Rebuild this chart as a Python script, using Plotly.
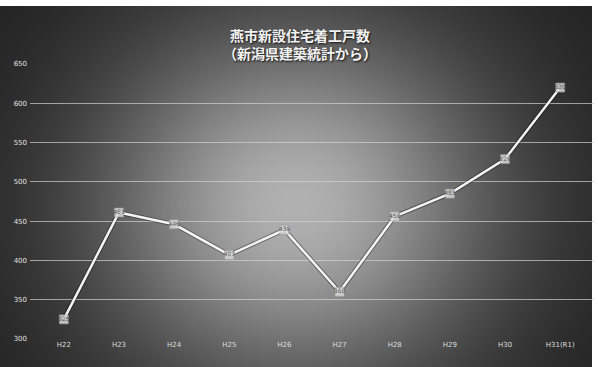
import base64, struct, zlib, math
import plotly.graph_objects as go

categories = ["H22", "H23", "H24", "H25", "H26", "H27", "H28", "H29", "H30", "H31(R1)"]
values = [325, 461, 446, 407, 439, 360, 456, 485, 529, 620]
y_ticks = [300, 350, 400, 450, 500, 550, 600, 650]
title_text = "燕市新設住宅着工戸数<br>（新潟県建築統計から）"

# radial-gradient background image (styling only)
W, H = 296, 181
rows = []
for j in range(H):
    row = bytearray([0])
    fy = j / (H - 1)
    for i in range(W):
        fx = i / (W - 1)
        dx = fx - 0.5
        dy = fy - 0.55
        v = 32 + 145 * math.exp(-(dx * dx / (2 * 0.24 ** 2) + dy * dy / (2 * 0.36 ** 2)))
        row.append(max(0, min(255, int(v))))
    rows.append(bytes(row))
raw = b"".join(rows)

def chunk(t, d):
    c = struct.pack(">I", len(d)) + t + d
    return c + struct.pack(">I", zlib.crc32(t + d) & 0xffffffff)

png = b"\x89PNG\r\n\x1a\n" + chunk(b"IHDR", struct.pack(">IIBBBBB", W, H, 8, 0, 0, 0, 0)) \
    + chunk(b"IDAT", zlib.compress(raw, 9)) + chunk(b"IEND", b"")
src = "data:image/png;base64," + base64.b64encode(png).decode()

fig = go.Figure()
fig.add_trace(go.Scatter(
    x=categories, y=values, mode="lines",
    line=dict(color="rgba(0,0,0,0.35)", width=4.5),
    hoverinfo="skip", showlegend=False,
))
fig.add_trace(go.Scatter(
    x=categories, y=values, mode="lines+markers+text",
    text=[str(v) for v in values], textposition="middle center",
    textfont=dict(size=6, color="#555555", family="DejaVu Sans"),
    line=dict(color="#f4f4f4", width=2.5),
    marker=dict(symbol="square", size=9, color="rgba(215,215,215,0.85)",
                line=dict(color="#999999", width=0.5)),
    showlegend=False,
))

fig.update_layout(
    width=598, height=367,
    margin=dict(l=30, r=4, t=64, b=28),
    paper_bgcolor="white",
    plot_bgcolor="rgba(0,0,0,0)",
    images=[dict(source=src, xref="paper", yref="paper", x=-30/564, y=1 + 58/275,
                 sizex=592/564, sizey=361/275, sizing="stretch", layer="below",
                 xanchor="left", yanchor="top")],
    xaxis=dict(showgrid=False, tickfont=dict(size=7, color="#dcdcdc", family="DejaVu Sans"),
               showline=False, ticks=""),
    yaxis=dict(range=[300, 650], tickvals=y_ticks, showgrid=True,
               gridcolor="rgba(210,210,210,0.7)", gridwidth=1.3, zeroline=False,
               tickfont=dict(size=7, color="#e0e0e0", family="DejaVu Sans"),
               ticklabelstandoff=2),
    annotations=[dict(text=title_text, xref="paper", yref="paper", x=(300-30)/564,
                      y=1 + 20/275, yanchor="middle", showarrow=False,
                      font=dict(size=14, color="#f2f2f2", family="Noto Sans CJK JP",
                                weight="bold", shadow="1px 1px 2px #111"))],
)
fig.write_html("out.html")
